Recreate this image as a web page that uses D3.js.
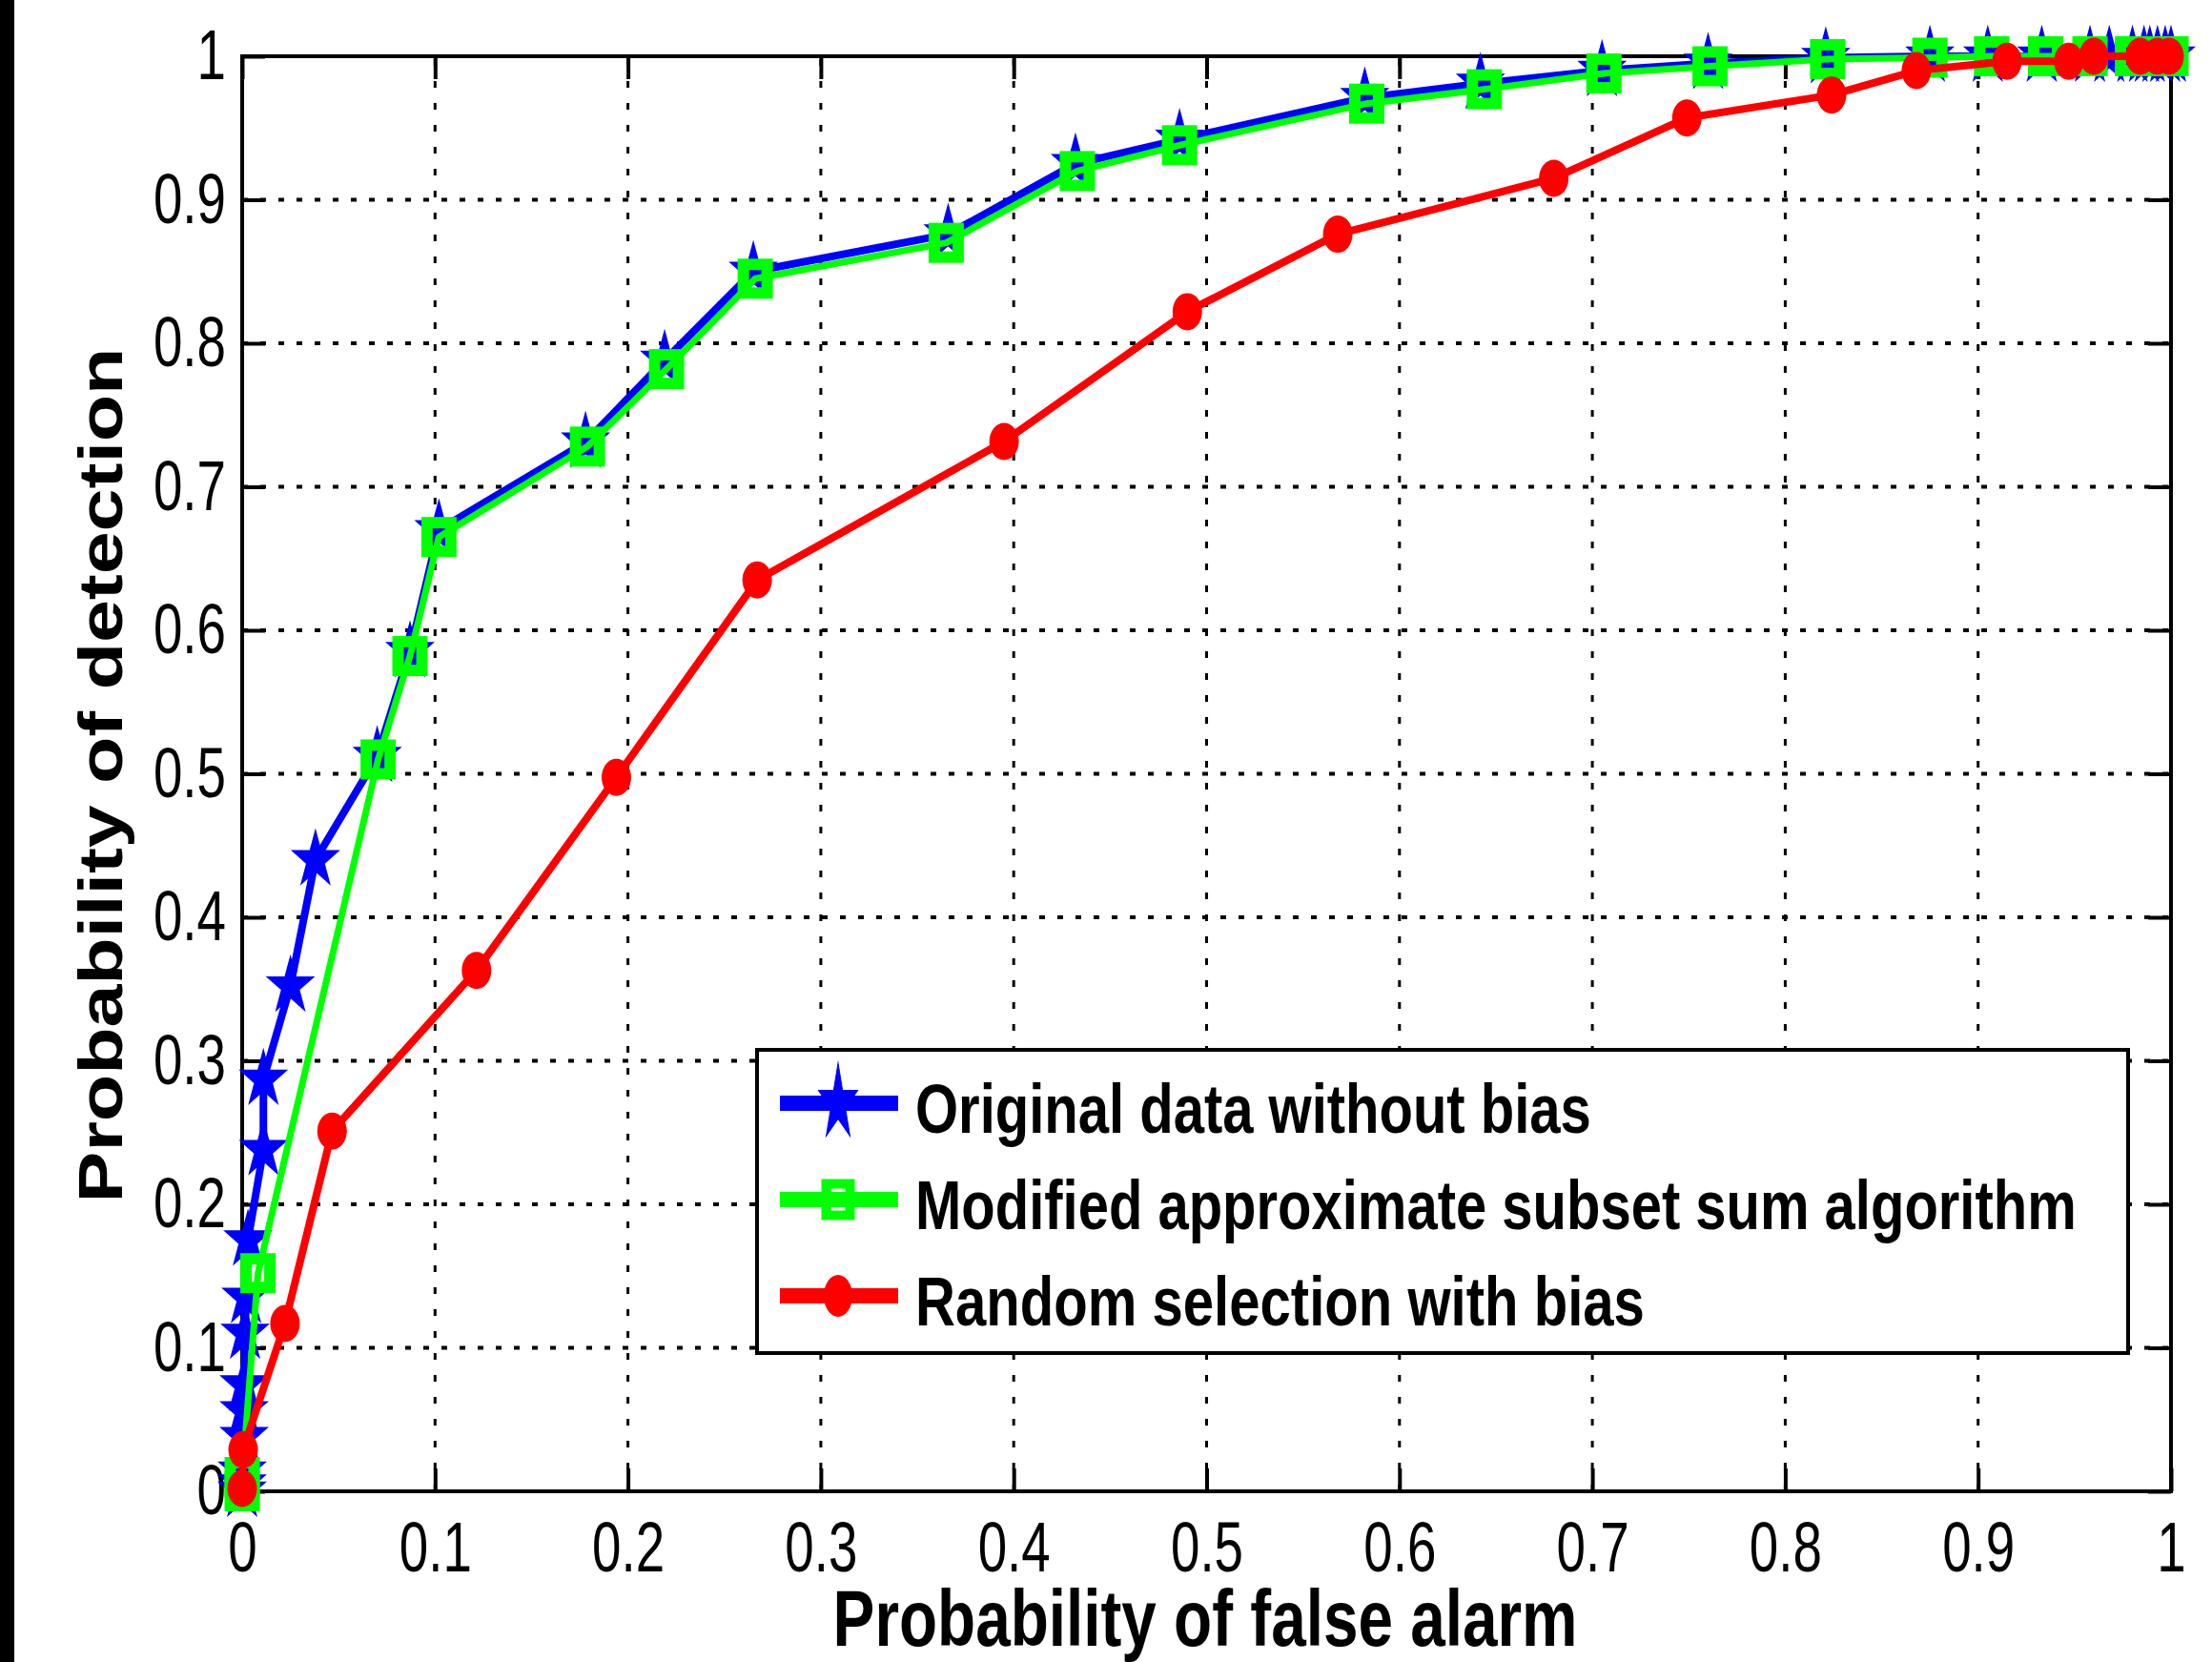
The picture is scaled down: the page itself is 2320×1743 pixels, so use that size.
<!DOCTYPE html>
<html>
<head>
<meta charset="utf-8">
<script src="https://cdn.jsdelivr.net/npm/d3@7/dist/d3.min.js"></script>
<style>
  body { margin: 0; background: #fff; }
  svg { display: block; }
</style>
</head>
<body>
<svg id="chart" width="2320" height="1743"></svg>
<script>
// ROC curves
const tickValues = [0, 0.1, 0.2, 0.3, 0.4, 0.5, 0.6, 0.7, 0.8, 0.9, 1];
const tickLabels = ['0', '0.1', '0.2', '0.3', '0.4', '0.5', '0.6', '0.7', '0.8', '0.9', '1'];
const seriesNames = [
  'Original data without bias',
  'Modified approximate subset sum algorithm',
  'Random selection with bias'
];

const originalPfa = [0, 0, 0, 0.001, 0.001, 0.001, 0.0015, 0.002, 0.003, 0.011, 0.011, 0.025, 0.038,
  0.070, 0.087, 0.102, 0.178, 0.219, 0.265, 0.366, 0.432, 0.486, 0.582, 0.642, 0.705, 0.760,
  0.821, 0.875, 0.905, 0.933, 0.958, 0.968, 0.980, 0.986, 0.989, 0.993, 0.997, 1.0];
const originalPd = [0, 0.005, 0.014, 0.038, 0.056, 0.074, 0.11, 0.135, 0.175, 0.238, 0.287, 0.352, 0.44,
  0.512, 0.585, 0.670, 0.731, 0.788, 0.850, 0.876, 0.925, 0.942, 0.971, 0.981, 0.990, 0.995,
  0.999, 1, 1, 1, 1, 1, 1, 1, 1, 1, 1, 1];

const modifiedPfa = [0, 0, 0.0082, 0.0705, 0.087, 0.102, 0.179, 0.220, 0.266, 0.365, 0.433, 0.486,
  0.583, 0.644, 0.706, 0.761, 0.822, 0.875, 0.907, 0.935, 0.958, 0.980, 0.990, 1.0];
const modifiedPd = [0, 0.01, 0.152, 0.510, 0.582, 0.665, 0.728, 0.782, 0.845, 0.870, 0.920, 0.938,
  0.967, 0.977, 0.988, 0.993, 0.998, 0.999, 1, 1, 1, 1, 1, 1];

const randomPfa = [0, 0.0005, 0.0222, 0.0466, 0.1215, 0.194, 0.267, 0.395, 0.490, 0.568, 0.680,
  0.749, 0.824, 0.868, 0.915, 0.947, 0.960, 0.984, 0.993, 0.999];
const randomPd = [0.002, 0.029, 0.117, 0.251, 0.363, 0.4975, 0.635, 0.7315, 0.822, 0.876, 0.915,
  0.957, 0.973, 0.990, 0.9965, 0.9965, 1, 1, 1, 1];

const W = 2320, H = 1743;
const MARGIN = { top: 59, right: 43, bottom: 179, left: 254 };
const FONT = "'Liberation Sans', Arial, Helvetica, sans-serif";
const SQUEEZE = 0.74; // the original figure is narrowed horizontally

const svg = d3.select('#chart');
svg.append('rect').attr('width', W).attr('height', H).attr('fill', '#fff');
svg.append('rect').attr('x', 0).attr('y', 0).attr('width', 15).attr('height', H).attr('fill', '#000');

const x = d3.scaleLinear().domain([0, 1]).range([MARGIN.left, W - MARGIN.right]);
const y = d3.scaleLinear().domain([0, 1]).range([H - MARGIN.bottom, MARGIN.top]);

// squeeze a text horizontally so that it spans the given width
function fitWidth(text, width, prefix) {
  const natural = text.node().getComputedTextLength();
  text.attr('transform', `${prefix} scale(${width / natural},1)`);
}

// dotted grid
const inner = tickValues.slice(1, -1);
svg.append('g').selectAll('line').data(inner).enter().append('line')
  .attr('x1', (d) => x(d)).attr('x2', (d) => x(d))
  .attr('y1', y(0)).attr('y2', y(1))
  .attr('stroke', '#000').attr('stroke-width', 3).attr('stroke-dasharray', '7,16');
svg.append('g').selectAll('line').data(inner).enter().append('line')
  .attr('x1', x(0)).attr('x2', x(1))
  .attr('y1', (d) => y(d)).attr('y2', (d) => y(d))
  .attr('stroke', '#000').attr('stroke-width', 4).attr('stroke-dasharray', '6,13');

// axes, ticks pointing inward on all four sides
function styleAxis(g, labelled) {
  g.select('.domain').remove();
  g.selectAll('.tick line').attr('stroke', '#000').attr('stroke-width', 4);
  if (!labelled) g.selectAll('.tick text').remove();
  g.selectAll('.tick text')
    .attr('fill', '#000')
    .attr('font-family', FONT)
    .attr('font-size', 74);
}
const fmt = (d, i) => tickLabels[i];

svg.append('g').attr('transform', `translate(0,${y(0)})`)
  .call(d3.axisBottom(x).tickValues(tickValues).tickFormat(fmt).tickSize(-24).tickPadding(31))
  .call((g) => styleAxis(g, true))
  .selectAll('.tick text').attr('transform', `scale(${SQUEEZE},1)`);

svg.append('g').attr('transform', `translate(${x(0)},0)`)
  .call(d3.axisLeft(y).tickValues(tickValues).tickFormat(fmt).tickSize(-24).tickPadding(17))
  .call((g) => styleAxis(g, true))
  .selectAll('.tick text')
  .attr('x', -17 / SQUEEZE)
  .attr('transform', `scale(${SQUEEZE},1)`);

svg.append('g').attr('transform', `translate(0,${y(1)})`)
  .call(d3.axisTop(x).tickValues(tickValues).tickSize(-24))
  .call((g) => styleAxis(g, false));
svg.append('g').attr('transform', `translate(${x(1)},0)`)
  .call(d3.axisRight(y).tickValues(tickValues).tickSize(-24))
  .call((g) => styleAxis(g, false));

svg.append('rect')
  .attr('x', x(0)).attr('y', y(1))
  .attr('width', x(1) - x(0)).attr('height', y(0) - y(1))
  .attr('fill', 'none').attr('stroke', '#000').attr('stroke-width', 4);

// marker shapes
function starPath(R) {
  const r = R * 0.382;
  const pts = [];
  for (let k = 0; k < 10; k++) {
    const rad = k % 2 === 0 ? R : r;
    const a = -Math.PI / 2 + (k * Math.PI) / 5;
    pts.push([rad * Math.cos(a), rad * Math.sin(a)]);
  }
  return 'M' + pts.map((p) => p.join(',')).join('L') + 'Z';
}

function drawStar(sel, R, sx) {
  sel.append('path').attr('d', starPath(R))
    .attr('transform', (d) => `${d.t} scale(${sx},1)`)
    .attr('fill', '#0000ff').attr('stroke', '#0000ff').attr('stroke-width', 2);
}
function drawSquare(sel, w, h, sw) {
  sel.append('rect')
    .attr('x', -w / 2).attr('y', -h / 2).attr('width', w).attr('height', h)
    .attr('transform', (d) => d.t)
    .attr('fill', 'none').attr('stroke', '#00ff00').attr('stroke-width', sw);
}
function drawDot(sel, rx, ry) {
  sel.append('ellipse').attr('rx', rx).attr('ry', ry)
    .attr('transform', (d) => d.t)
    .attr('fill', '#ff0000');
}

const series = [
  { xs: originalPfa, ys: originalPd, color: '#0000ff', width: 8,
    marker: (s) => drawStar(s, 30, 0.82), legendMarker: (s) => drawStar(s, 42, 0.5) },
  { xs: modifiedPfa, ys: modifiedPd, color: '#00ff00', width: 7,
    marker: (s) => drawSquare(s, 25, 30, 12), legendMarker: (s) => drawSquare(s, 25, 33, 10) },
  { xs: randomPfa, ys: randomPd, color: '#ff0000', width: 8,
    marker: (s) => drawDot(s, 15.5, 19.5), legendMarker: (s) => drawDot(s, 15, 22) }
];

series.forEach((s) => {
  const pts = s.xs.map((v, i) => ({ t: `translate(${x(v)},${y(s.ys[i])})`, px: x(v), py: y(s.ys[i]) }));
  svg.append('path')
    .attr('d', d3.line().x((d) => d.px).y((d) => d.py)(pts))
    .attr('fill', 'none').attr('stroke', s.color).attr('stroke-width', s.width)
    .attr('stroke-linejoin', 'round');
  const g = svg.append('g').selectAll('g').data(pts).enter().append('g');
  s.marker(g);
});

// legend
const legend = svg.append('g');
legend.append('rect')
  .attr('x', 794).attr('y', 1101).attr('width', 1438).attr('height', 318)
  .attr('fill', '#fff').attr('stroke', '#000').attr('stroke-width', 4);
const legendWidths = [709, 1218, 765];
series.forEach((s, i) => {
  const cy = 1157 + i * 101;
  legend.append('line')
    .attr('x1', 818).attr('x2', 942).attr('y1', cy).attr('y2', cy)
    .attr('stroke', s.color).attr('stroke-width', 16);
  const m = legend.append('g').datum({ t: `translate(879,${cy})` });
  s.legendMarker(m);
  const t = legend.append('text')
    .attr('font-family', FONT).attr('font-weight', 'bold').attr('font-size', 72)
    .attr('fill', '#000')
    .text(seriesNames[i]);
  fitWidth(t, legendWidths[i], `translate(960,${cy + 31})`);
});

// axis titles
const xTitle = svg.append('text')
  .attr('text-anchor', 'middle')
  .attr('font-family', FONT).attr('font-weight', 'bold').attr('font-size', 84)
  .text('Probability of false alarm');
fitWidth(xTitle, 781, 'translate(1264,1726)');

const yTitle = svg.append('text')
  .attr('text-anchor', 'middle')
  .attr('font-family', FONT).attr('font-weight', 'bold').attr('font-size', 80)
  .text('Probability of detection');
fitWidth(yTitle, 897, 'translate(128,813) scale(0.8,1) rotate(-90)');
</script>
</body>
</html>
